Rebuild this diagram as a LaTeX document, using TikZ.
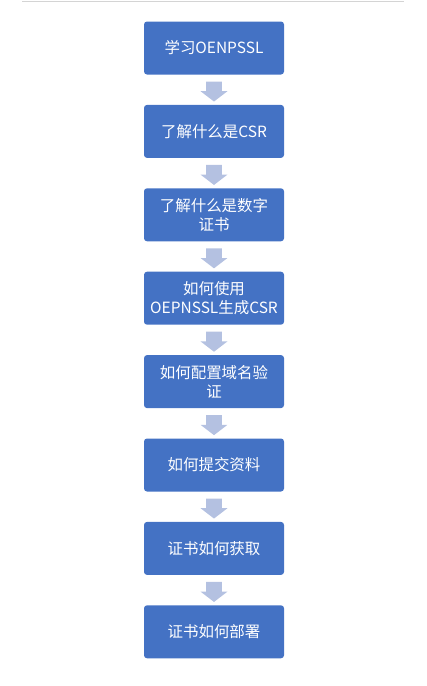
\documentclass[tikz,border=0pt]{standalone}
\usepackage{fontspec}
\newfontfamily\cjk{Noto Sans CJK SC}
\usetikzlibrary{positioning,shapes.arrows,calc}

\definecolor{boxblue}{RGB}{68,114,196}
\definecolor{arrowblue}{RGB}{180,193,225}
\definecolor{rulegray}{RGB}{212,212,212}

\tikzset{every picture/.style={line width=0.75pt}}
\tikzset{
  stepbox/.style={rectangle, rounded corners=2.25pt, fill=boxblue, draw=none,
    minimum width=105pt, minimum height=39.75pt, inner sep=2pt, outer sep=0pt,
    align=center, text=white, font=\cjk\fontsize{11.6}{14.6}\selectfont},
  flowarrow/.style={single arrow, fill=arrowblue, draw=none, rotate=-90,
    minimum height=15pt, inner xsep=0pt, inner ysep=5.6pt, outer sep=0pt,
    single arrow head extend=4.1pt, single arrow tip angle=105},
}

\begin{document}
\begin{tikzpicture}[x=0.75pt,y=0.75pt,yscale=-1,xscale=1, node distance=22.8pt]
		\useasboundingbox (0,0) rectangle (426,686);
		
		%Straight Lines (top rule)
		\draw [rulegray, line width=1.1pt]  (22,1.5) -- (404,1.5) ;
		
		% Steps
		\node [stepbox] (learn) at (214,48) {学习OENPSSL};
		\node [stepbox, below=of learn] (csr) {了解什么是CSR};
		\node [stepbox, below=of csr] (cert) {了解什么是数字\\证书};
		\node [stepbox, below=of cert] (gencsr) {如何使用\\OEPNSSL生成CSR};
		\node [stepbox, below=of gencsr] (domain) {如何配置域名验\\证};
		\node [stepbox, below=of domain] (submit) {如何提交资料};
		\node [stepbox, below=of submit] (obtain) {证书如何获取};
		\node [stepbox, below=of obtain] (deploy) {证书如何部署};
		
		% Arrows between steps
		\foreach \a/\b in {learn/csr, csr/cert, cert/gencsr, gencsr/domain, domain/submit, submit/obtain, obtain/deploy}
		  \node [flowarrow] (arr-\a) at ($(\a.south)!0.46!(\b.north)$) {};
		\end{tikzpicture}
\end{document}
